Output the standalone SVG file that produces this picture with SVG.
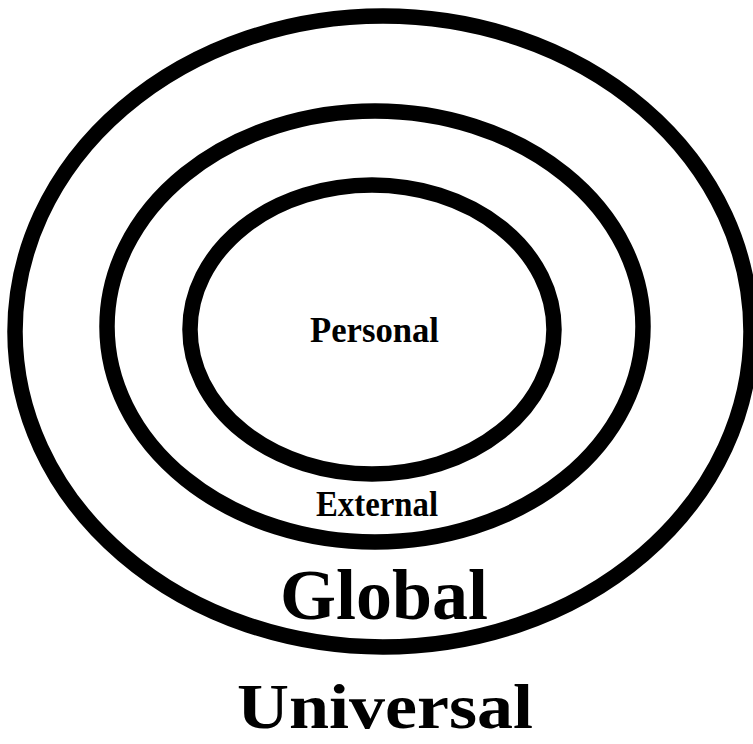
<svg xmlns="http://www.w3.org/2000/svg" width="753" height="744" viewBox="0 0 753 744">
<style>
.ring{fill:none;stroke:#000;stroke-width:15.5}
.lbl{font-family:"Liberation Serif","DejaVu Serif",serif;font-weight:bold;fill:#000;text-anchor:middle}
</style>
<rect width="753" height="744" fill="#fff"/>
<g id="universal">
<ellipse class="ring" cx="383" cy="331.5" rx="368" ry="315.5"/>
<text class="lbl" x="385" y="728" font-size="64" textLength="296" lengthAdjust="spacingAndGlyphs">Universal</text>
</g>
<g id="global">
<ellipse class="ring" cx="375" cy="326.5" rx="268" ry="215.5"/>
<text class="lbl" x="384" y="619" font-size="71" textLength="208" lengthAdjust="spacingAndGlyphs">Global</text>
</g>
<g id="external">
<ellipse class="ring" cx="372" cy="329.5" rx="182" ry="144.5"/>
<text class="lbl" x="377" y="516" font-size="35" textLength="122" lengthAdjust="spacingAndGlyphs">External</text>
</g>
<g id="personal">
<text class="lbl" x="374.5" y="342" font-size="35" textLength="129" lengthAdjust="spacingAndGlyphs">Personal</text>
</g>
<g id="connectors"></g>
</svg>
